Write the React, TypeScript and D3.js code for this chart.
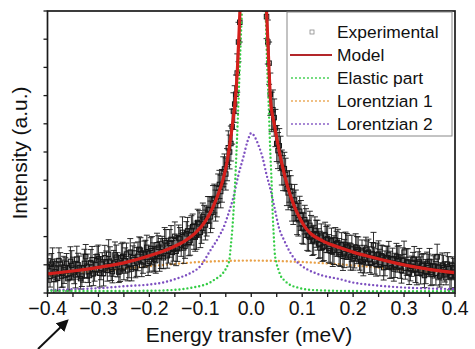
import React from "react";
import * as d3 from "d3";

// Energy grid of the measured spectrum (meV): main bins and the half-step-shifted bins
const ENERGY_START = -0.4;
const ENERGY_STEP = 0.005;
const ENERGY_START_MID = -0.3975;

// Measured intensity (a.u.) on the main grid
const expIntensity = [
  0.93, 0.59, 1.10, 0.76, 0.52, 1.03, 0.69, 0.90, 0.51, 1.12,
  0.88, 0.64, 1.00, 0.51, 0.88, 1.29, 0.75, 1.07, 0.68, 1.00,
  1.21, 0.88, 0.69, 1.11, 1.37, 0.84, 1.05, 1.27, 0.74, 1.25,
  0.92, 1.38, 1.02, 0.85, 1.42, 1.10, 1.55, 0.98, 1.37, 1.62,
  1.12, 1.50, 1.20, 1.71, 1.30, 1.62, 1.85, 1.32, 1.76, 1.44,
  2.01, 1.58, 1.92, 2.15, 1.66, 2.20, 1.86, 2.35, 1.98, 2.50,
  2.15, 2.70, 2.41, 2.95, 2.70, 3.30, 3.10, 3.72, 3.60, 4.30,
  4.22, 5.15,
  5.30, 6.45, 7.05, 8.90, 10.8, 14.5, 17.2, 19.5, 20.3, 19.8,
  18.1, 16.0, 13.4, 11.6, 9.8, 8.15,
  6.42, 6.22, 5.30, 5.22, 4.45, 4.41, 3.70, 3.78, 3.12, 3.30,
  2.65, 2.90, 2.31, 2.60, 2.05, 2.40, 1.85, 2.22, 2.05, 1.72,
  1.62, 2.05, 1.92, 1.50, 1.45, 1.88, 1.78, 1.36, 1.30, 1.70,
  1.62, 1.28, 1.22, 1.62, 1.55, 1.12, 1.10, 1.55, 1.45, 1.05,
  1.70, 1.02, 1.38, 1.32, 0.90, 1.25, 1.35, 0.90, 0.85, 1.30,
  1.28, 0.80, 1.45, 1.10, 0.72, 0.95, 1.20, 0.70, 1.10, 0.98,
  0.62, 1.05, 1.12, 0.66, 0.95, 1.28, 0.60, 0.98, 0.75, 1.02,
  0.58, 0.90, 0.62,
];

// Measured intensity (a.u.) on the half-step-shifted grid
const expIntensityMid = [
  0.80, 1.02, 0.48, 0.85, 1.15, 0.60, 0.82, 1.05, 0.55, 0.98,
  0.72, 1.20, 0.90, 0.60, 1.05, 0.95, 0.62, 1.18, 0.84, 1.30,
  0.70, 1.02, 1.25, 0.80, 1.12, 0.76, 1.35, 1.00, 0.78, 1.30,
  1.15, 0.82, 1.45, 1.25, 0.90, 1.30, 1.52, 1.10, 1.40, 1.05,
  1.58, 1.28, 1.15, 1.62, 1.40, 1.25, 1.78, 1.50, 1.90, 1.55,
  1.48, 1.95, 1.70, 1.60, 2.10, 1.80, 2.22, 2.00, 2.05, 2.45,
  2.30, 2.62, 2.55, 2.95, 2.85, 3.35, 3.25, 3.85, 3.80, 4.40,
  4.55,
  5.0, 5.9, 6.7, 7.8, 9.6, 12.5, 15.8, 18.5, 20.1, 20.0,
  19.0, 17.2, 14.8, 12.4, 10.8, 8.9,
  7.05, 6.50, 5.85, 5.05, 4.95, 4.25, 4.20, 3.55, 3.60, 3.00,
  3.10, 2.60, 2.75, 2.28, 2.48, 2.02, 2.25, 1.88, 2.10, 1.75,
  1.98, 1.65, 1.90, 1.58, 1.85, 1.52, 1.75, 1.45, 1.72, 1.40,
  1.65, 1.35, 1.58, 1.30, 1.52, 1.25, 1.48, 1.20, 1.42, 1.18,
  1.40, 1.12, 1.35, 1.08, 1.30, 1.05, 1.25, 1.00, 1.22, 0.98,
  1.20, 0.92, 1.15, 0.88, 1.10, 0.85, 1.08, 0.82, 1.05, 0.80,
  1.02, 0.76, 0.98, 0.72, 0.95, 0.70, 0.92, 0.68, 0.90, 0.65,
  0.88, 0.62, 0.85,
];

// Error bars (half-width) for each bin
const expError = [
  0.42, 0.38, 0.50, 0.36, 0.45, 0.40, 0.48, 0.35, 0.44, 0.52,
  0.39, 0.46, 0.41, 0.37, 0.50, 0.43, 0.38, 0.47, 0.42, 0.36,
  0.49, 0.41, 0.44, 0.38, 0.52, 0.40, 0.46, 0.43, 0.37, 0.50,
  0.45, 0.39, 0.48, 0.42, 0.36, 0.51, 0.44, 0.40, 0.47, 0.43,
  0.38, 0.50, 0.45, 0.41, 0.53, 0.39, 0.47, 0.44, 0.49, 0.42,
  0.51, 0.46, 0.40, 0.55, 0.43, 0.48, 0.52, 0.45, 0.50, 0.47,
  0.54, 0.49, 0.53, 0.47, 0.56, 0.51, 0.55, 0.50, 0.58, 0.53,
  0.57, 0.60, 0.62, 0.65, 0.68, 0.70, 0.75, 0.78, 0.80, 0.82,
  0.82, 0.85, 0.85, 0.84, 0.82, 0.80, 0.78, 0.75, 0.70, 0.66,
  0.64, 0.61, 0.62, 0.58, 0.60, 0.56, 0.57, 0.55, 0.58, 0.53,
  0.55, 0.51, 0.54, 0.50, 0.52, 0.48, 0.53, 0.47, 0.50, 0.46,
  0.49, 0.45, 0.51, 0.44, 0.48, 0.42, 0.50, 0.46, 0.43, 0.47,
  0.41, 0.48, 0.44, 0.40, 0.49, 0.43, 0.46, 0.39, 0.45, 0.42,
  0.47, 0.38, 0.44, 0.41, 0.48, 0.37, 0.43, 0.46, 0.40, 0.45,
  0.39, 0.47, 0.42, 0.36, 0.45, 0.41, 0.48, 0.38, 0.43, 0.40,
  0.46, 0.37, 0.42, 0.45, 0.39, 0.44, 0.36, 0.41, 0.47, 0.38,
  0.43,
];

// Fitted model
const modelE = [
  -0.4, -0.35, -0.3, -0.25, -0.2, -0.16, -0.13, -0.11, -0.09, -0.075,
  -0.065, -0.055, -0.048, -0.042, -0.036, -0.031, -0.027, -0.024, -0.021, -0.018,
  -0.012, 0, 0.012, 0.02, 0.026, 0.03, 0.034, 0.038, 0.045, 0.052,
  0.06, 0.071, 0.084, 0.097, 0.107, 0.117, 0.14, 0.172, 0.2, 0.239,
  0.27, 0.304, 0.35, 0.4,
];
const modelI = [
  0.68, 0.78, 0.91, 1.07, 1.32, 1.58, 1.85, 2.12, 2.55, 3.05,
  3.5, 4.05, 4.6, 5.3, 6.1, 6.9, 8.0, 9.2, 10.6, 12.5,
  16, 20, 18, 13.5, 11.0, 10.0, 8.3, 6.8, 6.0, 5.3,
  4.6, 3.8, 3.1, 2.6, 2.3, 2.1, 1.85, 1.62, 1.45, 1.26,
  1.12, 0.98, 0.84, 0.72,
];

// Elastic part
const elasticE = [
  -0.4, -0.3, -0.2, -0.16, -0.13, -0.12, -0.1, -0.09, -0.08, -0.07,
  -0.06, -0.055, -0.05, -0.046, -0.043, -0.04, -0.037, -0.035, -0.032, -0.029,
  -0.025, -0.021, -0.018, -0.012, -0.006, 0, 0.006, 0.012, 0.018, 0.024,
  0.028, 0.031, 0.034, 0.037, 0.04, 0.042, 0.044, 0.046, 0.049, 0.053,
  0.058, 0.065, 0.077, 0.09, 0.11, 0.14, 0.2, 0.3, 0.4,
];
const elasticI = [
  0.08, 0.07, 0.08, 0.1, 0.15, 0.18, 0.25, 0.3, 0.38, 0.5,
  0.62, 0.72, 0.85, 1.0, 1.17, 1.7, 2.3, 2.84, 3.8, 5.0,
  6.84, 8.8, 10.2, 14, 18, 21, 22, 21, 17, 12.5,
  10.2, 8.2, 6.8, 5.2, 3.9, 2.84, 2.1, 1.45, 1.1, 0.85,
  0.6, 0.45, 0.28, 0.2, 0.12, 0.09, 0.07, 0.06, 0.06,
];

// Lorentzian 1 (broad)
const lor1E = [-0.4, -0.3, -0.2, -0.1, 0, 0.1, 0.2, 0.3, 0.4];
const lor1I = [0.6, 0.78, 0.95, 1.1, 1.15, 1.1, 0.98, 0.82, 0.68];

// Lorentzian 2 (narrow)
const lor2E = [
  -0.4, -0.34, -0.3, -0.242, -0.2, -0.169, -0.14, -0.119, -0.1, -0.08,
  -0.065, -0.054, -0.045, -0.035, -0.025, -0.015, -0.007, 0, 0.008, 0.015,
  0.022, 0.03, 0.038, 0.046, 0.054, 0.065, 0.077, 0.09, 0.1, 0.12,
  0.14, 0.172, 0.2, 0.239, 0.27, 0.304, 0.35, 0.4,
];
const lor2I = [
  0.1, 0.14, 0.17, 0.25, 0.3, 0.39, 0.55, 0.71, 0.95, 1.52,
  1.95, 2.34, 2.8, 3.4, 4.2, 4.85, 5.4, 5.67, 5.5, 5.2,
  4.82, 4.2, 3.65, 3.0, 2.34, 1.85, 1.42, 1.1, 0.95, 0.75,
  0.62, 0.5, 0.37, 0.28, 0.23, 0.19, 0.16, 0.14,
];

const legendItems = [
  { label: "Experimental", kind: "marker", color: "#8a8a8a" },
  { label: "Model", kind: "line", color: "#b3262a" },
  { label: "Elastic part", kind: "dots", color: "#33cc44" },
  { label: "Lorentzian 1", kind: "dots", color: "#e9a24a" },
  { label: "Lorentzian 2", kind: "dots", color: "#7d4fc0" },
];

const W = 475;
const H = 349;
const PLOT = { left: 47.5, right: 455, top: 11, bottom: 293 };
const FONT = "'Liberation Sans', Arial, Helvetica, sans-serif";

export default function App() {
  const x = d3.scaleLinear().domain([-0.4, 0.4]).range([PLOT.left, PLOT.right]);
  const y = d3.scaleLinear().domain([0, 10]).range([PLOT.bottom, PLOT.top]);

  const pairs = (es: number[], is: number[]) => es.map((e, i) => [e, is[i]] as [number, number]);
  const line = d3
    .line<[number, number]>()
    .x((d) => x(d[0]))
    .y((d) => y(d[1]))
    .curve(d3.curveMonotoneX);

  const points = [
    ...expIntensity.map((v, i) => ({ e: ENERGY_START + i * ENERGY_STEP, v, err: expError[i] })),
    ...expIntensityMid.map((v, i) => ({ e: ENERGY_START_MID + i * ENERGY_STEP, v, err: expError[i] })),
  ];

  const xTicks = x.ticks(16);
  const xLabels = x.ticks(8);
  const yTicks = y.ticks(10);
  const fmt = d3.format(".1f");

  const dotStyle = (color: string, w = 2.4) => ({
    fill: "none",
    stroke: color,
    strokeWidth: w,
    strokeLinecap: "round" as const,
    strokeDasharray: "0 4",
  });

  const legend = { x: 287, y: 12, w: 165, h: 124, row0: 32, rowStep: 23 };

  return (
    <svg
      width={W}
      height={H}
      style={{ position: "absolute", left: 0, top: 0, background: "#fff" }}
      fontFamily={FONT}
    >
      <defs>
        <clipPath id="plot-clip">
          <rect
            x={PLOT.left}
            y={PLOT.top}
            width={PLOT.right - PLOT.left}
            height={PLOT.bottom - PLOT.top}
          />
        </clipPath>
        <marker id="arrow-head" viewBox="0 0 10 10" refX="8" refY="5" markerWidth="6" markerHeight="6" orient="auto">
          <path d="M0,0 L10,5 L0,10 z" fill="#111" />
        </marker>
      </defs>

      <g clipPath="url(#plot-clip)">
        <path d={line(pairs(lor1E, lor1I)) || ""} style={dotStyle("#e9a24a")} />
        <g stroke="#161616" fill="none">
          {points.map((p, i) => {
            const cx = x(p.e);
            const top = y(p.v + p.err);
            const bot = y(p.v - p.err);
            return (
              <g key={i}>
                <line x1={cx} x2={cx} y1={top} y2={bot} strokeWidth={0.9} />
                <line x1={cx - 3} x2={cx + 3} y1={top} y2={top} strokeWidth={0.9} />
                <line x1={cx - 3} x2={cx + 3} y1={bot} y2={bot} strokeWidth={0.9} />
                <rect x={cx - 2.2} y={y(p.v) - 2.2} width={4.4} height={4.4} strokeWidth={1.1} />
              </g>
            );
          })}
        </g>
        <path d={line(pairs(lor2E, lor2I)) || ""} style={dotStyle("#7d4fc0")} />
        <path d={line(pairs(elasticE, elasticI)) || ""} style={dotStyle("#33cc44")} />
        <path
          d={line(pairs(modelE, modelI)) || ""}
          fill="none"
          stroke="#d4201c"
          strokeWidth={3.2}
        />
      </g>

      {/* frame */}
      <rect
        x={PLOT.left}
        y={PLOT.top}
        width={PLOT.right - PLOT.left}
        height={PLOT.bottom - PLOT.top}
        fill="none"
        stroke="#1a1a1a"
        strokeWidth={1.7}
      />

      {/* x axis */}
      <g stroke="#1a1a1a" strokeWidth={1.3}>
        {xTicks.map((t, i) => (
          <line key={i} x1={x(t)} x2={x(t)} y1={PLOT.bottom} y2={PLOT.bottom + 4} />
        ))}
      </g>
      <g fontSize={19.5} fill="#111" textAnchor="middle">
        {xLabels.map((t, i) => (
          <text key={i} x={x(t)} y={315}>
            {fmt(t)}
          </text>
        ))}
      </g>
      <text x={249} y={342} fontSize={21} textAnchor="middle" fill="#111">
        Energy transfer (meV)
      </text>

      {/* y axis */}
      <g stroke="#1a1a1a" strokeWidth={1.3}>
        {yTicks.map((t, i) => (
          <line key={i} x1={PLOT.left - 4} x2={PLOT.left} y1={y(t)} y2={y(t)} />
        ))}
      </g>
      <text
        transform="translate(27,153) rotate(-90)"
        fontSize={21}
        textAnchor="middle"
        fill="#111"
      >
        Intensity (a.u.)
      </text>

      {/* legend */}
      <rect x={legend.x} y={legend.y} width={legend.w} height={legend.h} fill="#fff" stroke="#888" strokeWidth={1} />
      {legendItems.map((it, i) => {
        const cy = legend.row0 + i * legend.rowStep;
        return (
          <g key={it.label}>
            {it.kind === "marker" && (
              <rect x={310} y={cy - 2} width={4} height={4} fill="none" stroke={it.color} strokeWidth={0.8} />
            )}
            {it.kind === "line" && (
              <line x1={290} x2={332} y1={cy} y2={cy} stroke={it.color} strokeWidth={2} />
            )}
            {it.kind === "dots" && <line x1={292} x2={332} y1={cy} y2={cy} style={dotStyle(it.color, 1.8)} />}
            <text x={337} y={cy + 6} fontSize={17.4} fill="#111">
              {it.label}
            </text>
          </g>
        );
      })}

      {/* pointer arrow */}
      <line x1={38} y1={349} x2={67} y2={321} stroke="#111" strokeWidth={2} markerEnd="url(#arrow-head)" />
    </svg>
  );
}
